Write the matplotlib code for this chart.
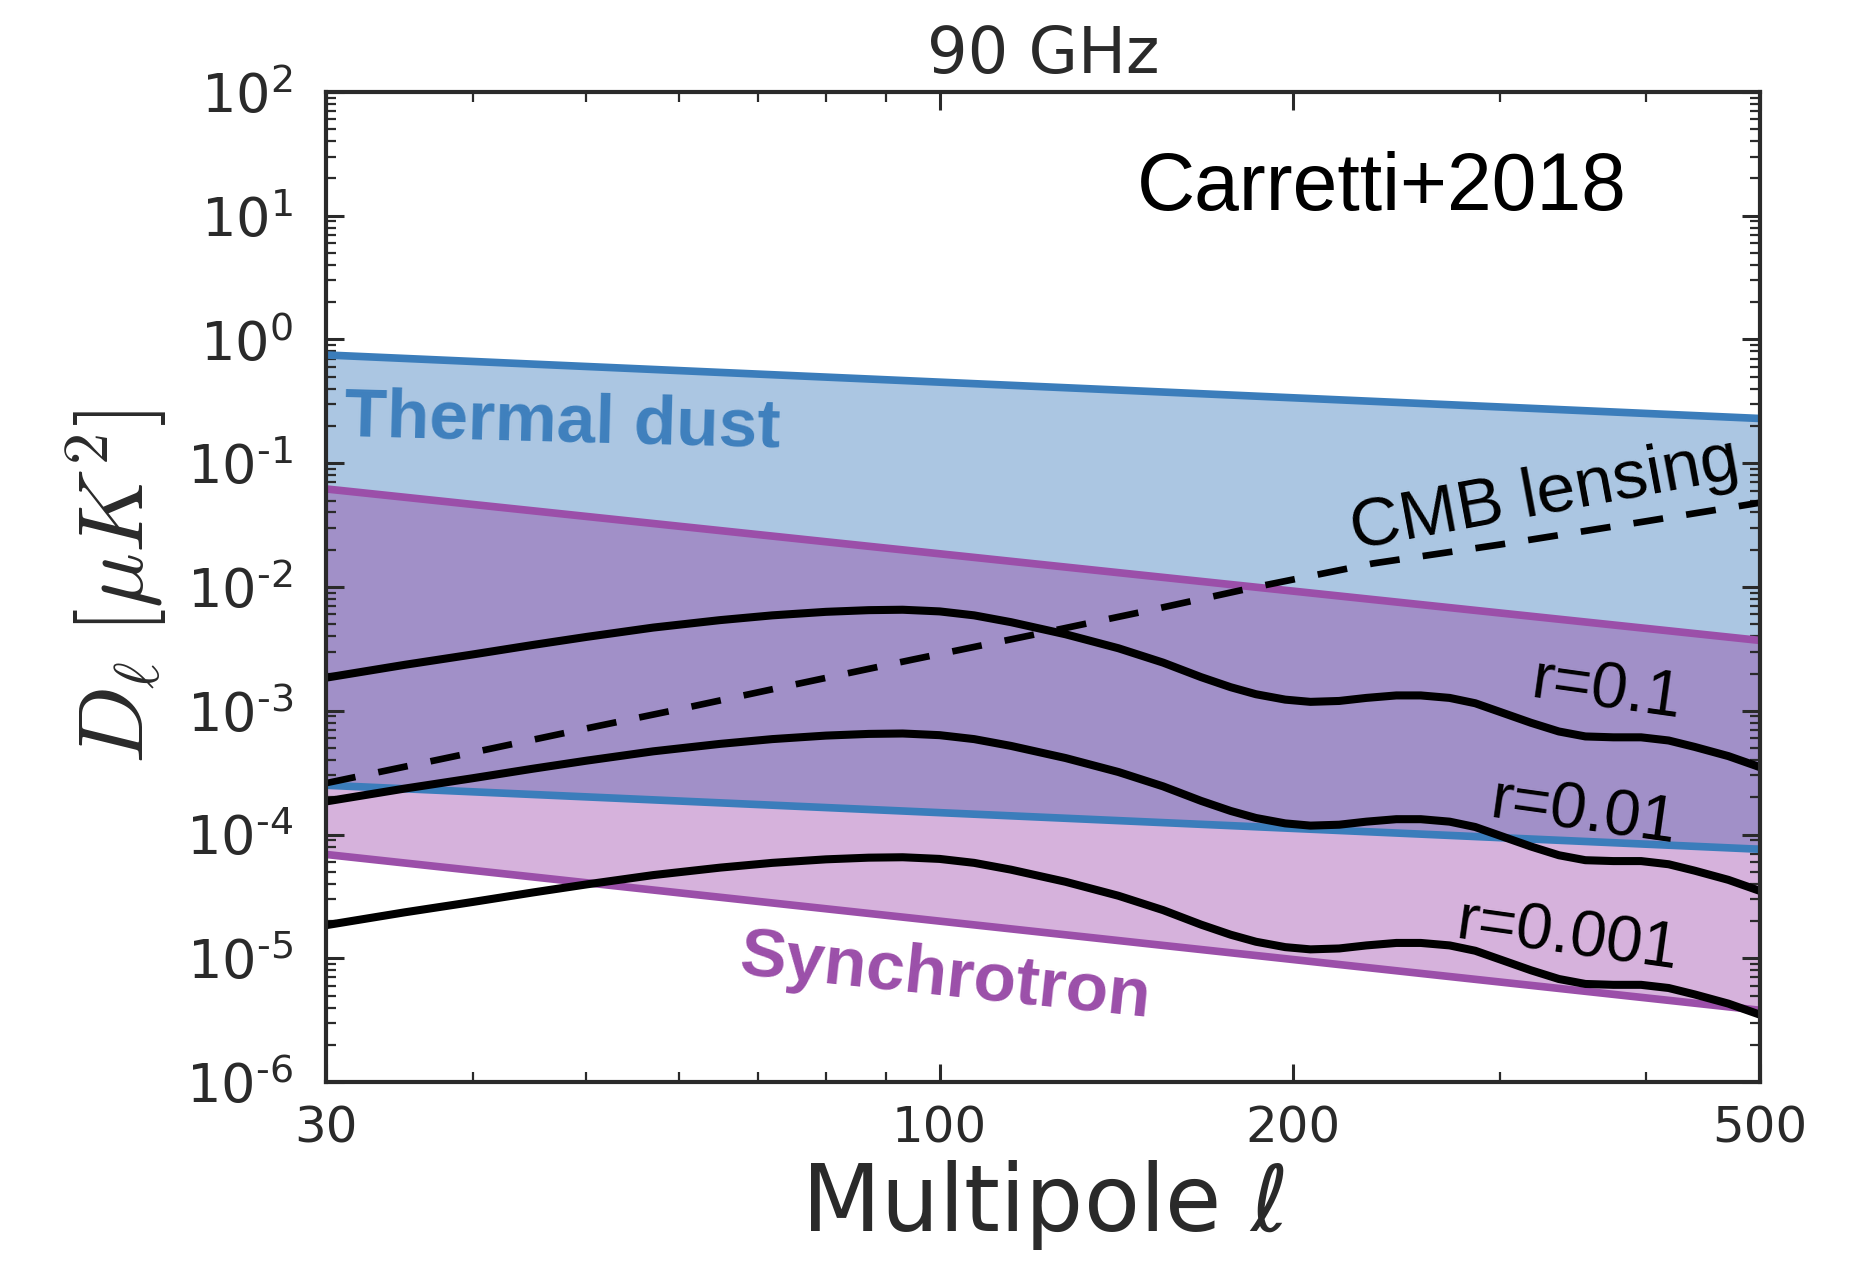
import numpy as np
import matplotlib
matplotlib.use("Agg")
import matplotlib.pyplot as plt
from matplotlib.ticker import FixedLocator, NullFormatter, LogLocator, FuncFormatter

# Foreground power-law envelopes (values at l = 30 and l = 500)
ell_fg = [30, 500]
dust_hi = [0.75, 0.23]
dust_lo = [2.5e-4, 7.6e-5]
sync_hi = [0.062, 3.7e-3]
sync_lo = [6.9e-5, 3.8e-6]

# Primordial BB spectra for three tensor-to-scalar ratios
ell_bb = [30, 35, 40, 45, 50, 57, 65, 72, 80, 87, 93, 100, 107, 115, 128,
          142, 155, 167, 177, 186, 197, 207, 219, 231, 245, 257, 272, 286,
          302, 319, 337, 355, 375, 396, 418, 440, 470, 500]
bb_r01 = [1.85e-3, 2.35e-3, 2.85e-3, 3.4e-3, 3.95e-3, 4.7e-3, 5.4e-3, 5.9e-3,
          6.3e-3, 6.5e-3, 6.55e-3, 6.35e-3, 5.9e-3, 5.2e-3, 4.15e-3, 3.2e-3,
          2.45e-3, 1.87e-3, 1.55e-3, 1.36e-3, 1.23e-3, 1.18e-3, 1.2e-3,
          1.27e-3, 1.33e-3, 1.33e-3, 1.27e-3, 1.15e-3, 9.6e-4, 8.0e-4,
          6.8e-4, 6.2e-4, 6.1e-4, 6.1e-4, 5.75e-4, 5.1e-4, 4.3e-4, 3.5e-4]
bb_r001 = [1.85e-4, 2.35e-4, 2.85e-4, 3.4e-4, 3.95e-4, 4.7e-4, 5.4e-4, 5.9e-4,
           6.3e-4, 6.5e-4, 6.55e-4, 6.35e-4, 5.9e-4, 5.2e-4, 4.15e-4, 3.2e-4,
           2.45e-4, 1.87e-4, 1.55e-4, 1.36e-4, 1.23e-4, 1.18e-4, 1.2e-4,
           1.27e-4, 1.33e-4, 1.33e-4, 1.27e-4, 1.15e-4, 9.6e-5, 8.0e-5,
           6.8e-5, 6.2e-5, 6.1e-5, 6.1e-5, 5.75e-5, 5.1e-5, 4.3e-5, 3.5e-5]
bb_r0001 = [1.85e-5, 2.35e-5, 2.85e-5, 3.4e-5, 3.95e-5, 4.7e-5, 5.4e-5, 5.9e-5,
            6.3e-5, 6.5e-5, 6.55e-5, 6.35e-5, 5.9e-5, 5.2e-5, 4.15e-5, 3.2e-5,
            2.45e-5, 1.87e-5, 1.55e-5, 1.36e-5, 1.23e-5, 1.18e-5, 1.2e-5,
            1.27e-5, 1.33e-5, 1.33e-5, 1.27e-5, 1.15e-5, 9.6e-6, 8.0e-6,
            6.8e-6, 6.2e-6, 6.1e-6, 6.1e-6, 5.75e-6, 5.1e-6, 4.3e-6, 3.5e-6]

# Lensing B-modes
ell_lens = [30, 40, 50, 60, 75, 95, 120, 150, 186, 234, 300, 400, 500]
lens = [2.6e-4, 4.6e-4, 7.2e-4, 1.03e-3, 1.62e-3, 2.6e-3, 4.1e-3, 6.4e-3,
        1.0e-2, 1.55e-2, 2.2e-2, 3.4e-2, 4.8e-2]

xticks = [30, 100, 200, 500]
xticklabels = ["30", "100", "200", "500"]

c_dust_line = "#3b7dbb"
c_dust_fill = "#abc6e2"
c_sync_line = "#9b4fa9"
c_sync_fill = "#d6b2dc"
c_overlap = "#a190c8"
c_axis = "#2a2a2a"


def decade_label(v, pos):
    e = int(round(np.log10(v)))
    sign = "\u2010" if e < 0 else ""
    return r"$\mathdefault{10^{%s%d}}$" % (sign, abs(e))


fig = plt.figure(figsize=(18.6, 12.67), dpi=100)
ax = fig.add_axes([0.1753, 0.1460, 0.7709, 0.7814])
ax.set_xscale("log")
ax.set_yscale("log")
ax.set_xlim(30, 500)
ax.set_ylim(1e-6, 1e2)

# Foreground bands
ax.fill_between(ell_fg, dust_lo, dust_hi, color=c_dust_fill, lw=0, zorder=1)
ax.fill_between(ell_fg, sync_lo, sync_hi, color=c_sync_fill, lw=0, zorder=1)
ax.fill_between(ell_fg, dust_lo, sync_hi, color=c_overlap, lw=0, zorder=1.5)

for y in (dust_hi, dust_lo):
    ax.plot(ell_fg, y, color=c_dust_line, lw=5.5, zorder=3)
for y in (sync_hi, sync_lo):
    ax.plot(ell_fg, y, color=c_sync_line, lw=5.5, zorder=3)

for y in (bb_r01, bb_r001, bb_r0001):
    ax.plot(ell_bb, y, color="black", lw=5.8, zorder=4,
            solid_joinstyle="round", solid_capstyle="butt")

ax.plot(ell_lens, lens, color="black", lw=4.8, ls=(0, (4.5, 3.5)), zorder=4)

# Axes styling
for s in ax.spines.values():
    s.set_linewidth(3)
    s.set_color(c_axis)
    s.set_zorder(6)

ax.xaxis.set_major_locator(FixedLocator(xticks))
ax.set_xticklabels(xticklabels)
ax.xaxis.set_minor_locator(FixedLocator([40, 50, 60, 70, 80, 90, 300, 400]))
ax.xaxis.set_minor_formatter(NullFormatter())
ax.yaxis.set_major_locator(LogLocator(base=10, numticks=20))
ax.yaxis.set_major_formatter(FuncFormatter(decade_label))
ax.yaxis.set_minor_locator(LogLocator(base=10, subs=np.arange(2, 10), numticks=20))
ax.yaxis.set_minor_formatter(NullFormatter())
ax.tick_params(which="both", direction="in", top=True, right=True, color=c_axis)
ax.tick_params(which="major", length=13, width=2.2)
ax.tick_params(which="minor", length=7, width=1.6)
ax.tick_params(axis="x", which="major", labelsize=36, labelcolor=c_axis, pad=16)
ax.tick_params(axis="y", which="major", labelsize=39, labelcolor=c_axis, pad=24)

ax.set_title("90 GHz", fontsize=46, pad=14, color=c_axis)
ax.set_xlabel(r"Multipole $\ell$", fontsize=66, color=c_axis, labelpad=4)
ax.set_ylabel(r"$D_\ell\;[\mu K^2]$", fontsize=66, color=c_axis, labelpad=12,
              math_fontfamily="cm")

# Annotations
sans = "Liberation Sans"
ax.text(0.012, 0.665, "Thermal dust", transform=ax.transAxes, fontsize=50,
        family=sans, fontweight="bold", color="#3f80bd", ha="left",
        va="center", rotation=-1.5, zorder=5)
ax.text(0.432, 0.105, "Synchrotron", transform=ax.transAxes, fontsize=50,
        family=sans, fontweight="bold", color="#9b4fa9", ha="center",
        va="center", rotation=-6, zorder=5)
ax.text(0.850, 0.592, "CMB lensing", transform=ax.transAxes, fontsize=50,
        family=sans, color="black", ha="center", va="center", rotation=10.5,
        zorder=5)
ax.text(0.893, 0.395, "r=0.1", transform=ax.transAxes, fontsize=47,
        family=sans, color="black", ha="center", va="center", rotation=-8,
        zorder=5)
ax.text(0.877, 0.271, "r=0.01", transform=ax.transAxes, fontsize=47,
        family=sans, color="black", ha="center", va="center", rotation=-8,
        zorder=5)
ax.text(0.866, 0.146, "r=0.001", transform=ax.transAxes, fontsize=47,
        family=sans, color="black", ha="center", va="center", rotation=-8,
        zorder=5)
ax.text(0.736, 0.902, "Carretti+2018", transform=ax.transAxes, fontsize=58,
        family=sans, color="black", ha="center", va="center", zorder=5)

fig.savefig("out.png", dpi=100, facecolor="white")
